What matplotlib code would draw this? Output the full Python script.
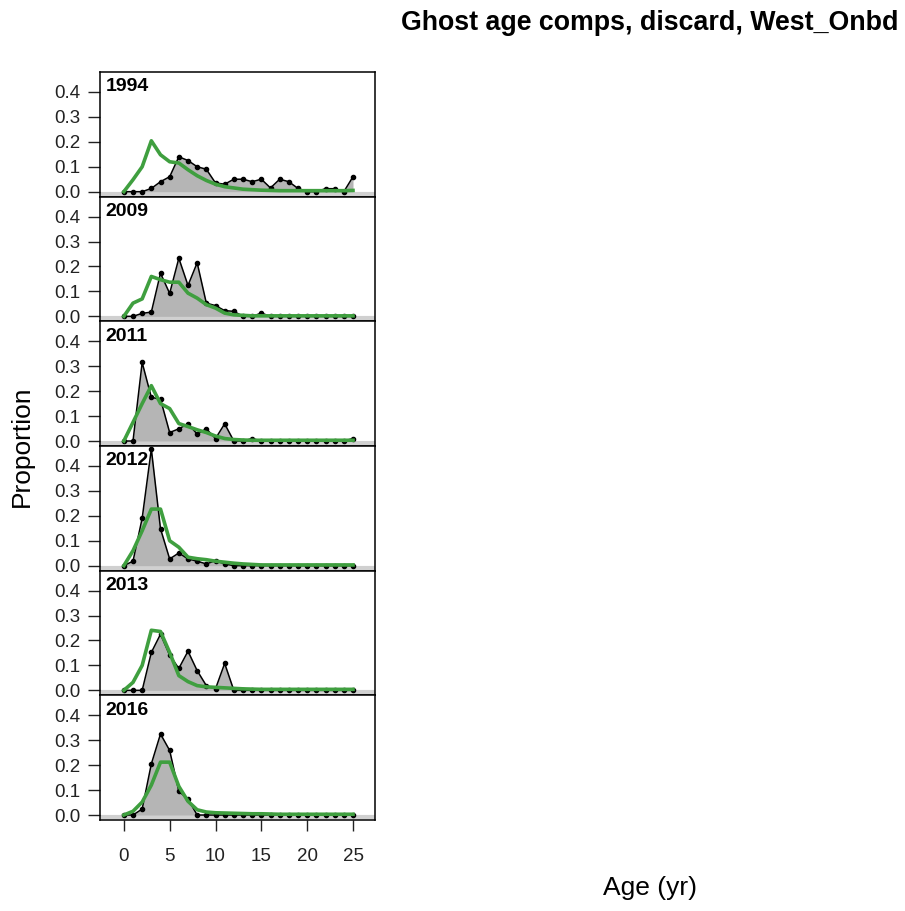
import numpy as np
import matplotlib
matplotlib.use("Agg")
import matplotlib.pyplot as plt

plt.rcParams['font.family'] = ['Liberation Sans', 'DejaVu Sans']

ages = np.arange(0, 26)
years = ['1994', '2009', '2011', '2012', '2013', '2016']

obs_1994 = [0, 0, 0, 0.013, 0.04, 0.06, 0.14, 0.125, 0.10, 0.09, 0.035, 0.03, 0.05,
            0.05, 0.04, 0.05, 0.015, 0.05, 0.04, 0.013, 0, 0, 0.012, 0.012, 0, 0.06]
exp_1994 = [0, 0.048, 0.10, 0.204, 0.148, 0.12, 0.115, 0.088, 0.064, 0.045, 0.03, 0.02, 0.015,
            0.01, 0.008, 0.006, 0.005, 0.004, 0.004, 0.004, 0.004, 0.004, 0.004, 0.004, 0.004, 0.005]

obs_2009 = [0, 0, 0.012, 0.017, 0.173, 0.092, 0.233, 0.124, 0.215, 0.053, 0.043, 0.023, 0.02,
            0, 0, 0.013, 0, 0, 0, 0, 0, 0, 0, 0, 0, 0]
exp_2009 = [0, 0.053, 0.07, 0.16, 0.147, 0.137, 0.137, 0.093, 0.073, 0.047, 0.033, 0.013, 0.006,
            0.004, 0.002, 0.002, 0.002, 0.002, 0.002, 0.002, 0.002, 0.002, 0.002, 0.002, 0.002, 0.002]

obs_2011 = [0, 0, 0.315, 0.175, 0.168, 0.034, 0.049, 0.069, 0.028, 0.049, 0.01, 0.069, 0,
            0, 0.01, 0, 0, 0, 0, 0, 0, 0, 0, 0, 0, 0.01]
exp_2011 = [0, 0.075, 0.15, 0.222, 0.15, 0.13, 0.07, 0.058, 0.045, 0.034, 0.02, 0.01, 0.006,
            0.004, 0.003, 0.003, 0.003, 0.003, 0.003, 0.003, 0.003, 0.003, 0.003, 0.003, 0.003, 0.003]

obs_2012 = [0, 0.018, 0.19, 0.468, 0.148, 0.027, 0.051, 0.027, 0.018, 0.007, 0.02, 0.007, 0,
            0, 0, 0, 0, 0, 0, 0, 0, 0, 0, 0, 0, 0]
exp_2012 = [0, 0.06, 0.14, 0.227, 0.227, 0.10, 0.074, 0.034, 0.028, 0.024, 0.018, 0.014, 0.01,
            0.007, 0.005, 0.003, 0.003, 0.003, 0.003, 0.003, 0.003, 0.003, 0.003, 0.003, 0.003, 0.003]

obs_2013 = [0, 0, 0, 0.152, 0.225, 0.141, 0.088, 0.157, 0.079, 0.019, 0.006, 0.108, 0,
            0, 0, 0, 0, 0, 0, 0, 0, 0, 0, 0, 0, 0]
exp_2013 = [0, 0.032, 0.10, 0.241, 0.236, 0.152, 0.059, 0.035, 0.019, 0.014, 0.012, 0.01, 0.008,
            0.006, 0.005, 0.004, 0.004, 0.004, 0.004, 0.004, 0.004, 0.004, 0.004, 0.004, 0.004, 0.004]

obs_2016 = [0, 0, 0.024, 0.205, 0.325, 0.259, 0.095, 0.064, 0, 0, 0, 0, 0,
            0, 0, 0, 0, 0, 0, 0, 0, 0, 0, 0, 0, 0]
exp_2016 = [0, 0.015, 0.052, 0.12, 0.212, 0.212, 0.115, 0.055, 0.021, 0.012, 0.009, 0.008, 0.007,
            0.006, 0.005, 0.005, 0.004, 0.003, 0.003, 0.003, 0.003, 0.003, 0.003, 0.003, 0.003, 0.003]

observed = [obs_1994, obs_2009, obs_2011, obs_2012, obs_2013, obs_2016]
expected = [exp_1994, exp_2009, exp_2011, exp_2012, exp_2013, exp_2016]

W, H = 905, 911
fig = plt.figure(figsize=(W / 100, H / 100), dpi=100)
gs = fig.add_gridspec(len(years), 1, left=100 / W, right=375 / W,
                      top=1 - 72 / H, bottom=1 - 820 / H, hspace=0)

green = '#3f9f3f'
for i, yr in enumerate(years):
    ax = fig.add_subplot(gs[i])
    ax.axhline(-0.008, color='#d0d0d0', lw=3, zorder=0)
    ax.fill_between(ages, observed[i], 0, color='#b5b5b5', lw=0, zorder=1)
    ax.plot(ages, observed[i], color='black', lw=1.1, marker='o', ms=3, zorder=3)
    ax.plot(ages, expected[i], color=green, lw=2.6, zorder=4)
    ax.set_xlim(-2.6, 27.4)
    ax.set_ylim(-0.02, 0.48)
    ax.set_yticks([0.0, 0.1, 0.2, 0.3, 0.4])
    ax.set_yticklabels(['0.0', '0.1', '0.2', '0.3', '0.4'])
    ax.tick_params(axis='y', labelsize=13.5, length=9, width=1, pad=5, colors='#222222')
    ax.set_xticks([0, 5, 10, 15, 20, 25])
    if i < len(years) - 1:
        ax.tick_params(axis='x', bottom=False, labelbottom=False)
    else:
        ax.tick_params(axis='x', labelsize=13.5, length=8, width=1, pad=12, colors='#222222')
    for s in ax.spines.values():
        s.set_linewidth(1.1)
    ax.text(0.02, 0.95, yr, transform=ax.transAxes, ha='left', va='top',
            fontsize=14, fontweight='bold', zorder=5)

fig.text(650 / W, 1 - 23 / H, 'Ghost age comps, discard, West_Onbd', ha='center', va='center',
         fontsize=19.3, fontweight='bold')
fig.text(22 / W, 1 - 446 / H, 'Proportion', rotation=90, ha='center', va='center', fontsize=19)
fig.text(650 / W, 1 - 888 / H, 'Age (yr)', ha='center', va='center', fontsize=19)

fig.savefig('out.png', dpi=100)
